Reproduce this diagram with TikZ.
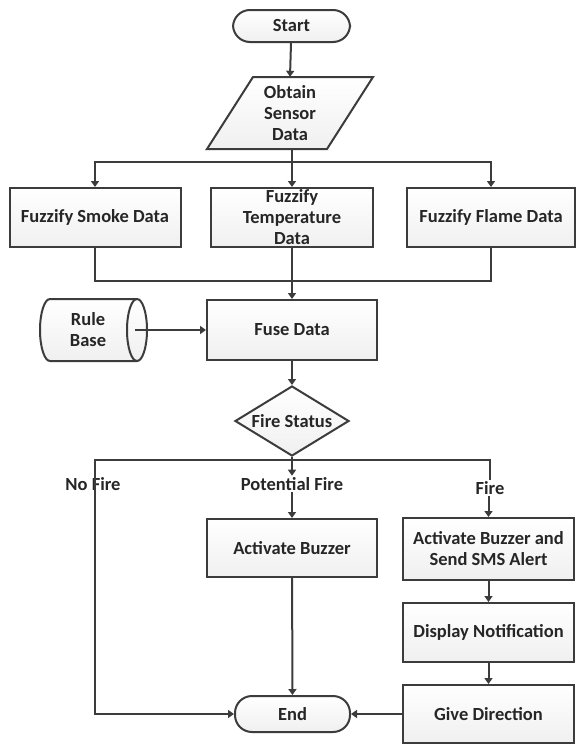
\documentclass[tikz,border=0pt]{standalone}
\usepackage{fontspec}
\setmainfont{Carlito}
\usetikzlibrary{arrows.meta,shapes.geometric}
\definecolor{ink}{HTML}{3C3C3C}
\definecolor{txt}{HTML}{262626}
\tikzset{
  base/.style={draw=ink, line width=2pt, text=txt, font=\fontsize{18.5}{21}\selectfont\bfseries, align=center, inner sep=0pt},
  shade/.style={top color=white, bottom color=black!6},
  proc/.style={base, shade, rectangle, minimum height=59pt},
  term/.style={base, shade, rectangle, rounded corners=17pt},
  decide/.style={base, shade, diamond, minimum width=114pt, minimum height=70pt},
  lab/.style={text=txt, font=\fontsize{18.5}{21}\selectfont\bfseries, inner sep=1.5pt},
  conn/.style={draw=ink, line width=2pt},
  arr/.style={conn, -{Triangle[length=6pt,width=8pt]}}
}
\begin{document}
\begin{tikzpicture}[x=1pt,y=-1pt]
\useasboundingbox[fill=white] (0,0) rectangle (576,744);
% Start
\node[term, minimum width=117pt, minimum height=32pt] (start) at (291.5,26) {Start};
% Obtain sensor data (parallelogram)
\draw[conn, shade] (253,77) -- (373,77) -- (327,149) -- (207,149) -- cycle;
\node[lab, minimum width=120pt, minimum height=72pt, align=center] (obtain) at (290,113) {Obtain\\Sensor\\Data};
% Fuzzify
\node[proc, minimum width=171pt] (smoke) at (95,217.5) {Fuzzify Smoke Data};
\node[proc, minimum width=162pt] (temp) at (292,217.5) {Fuzzify\\Temperature\\Data};
\node[proc, minimum width=168pt] (flame) at (491,217.5) {Fuzzify Flame Data};
% Fuse
\node[proc, minimum width=170pt, minimum height=60pt] (fuse) at (292,330) {Fuse Data};
% Rule base cylinder
\draw[conn, shade] (137,299) -- (50,299) arc[start angle=270, end angle=90, x radius=10, y radius=31]
  -- (137,361) arc[start angle=90, end angle=-90, x radius=10, y radius=31] -- cycle;
\draw[conn] (137,299) arc[start angle=270, end angle=90, x radius=10, y radius=31];
\node[lab, minimum width=80pt, minimum height=60pt, align=center] (rule) at (88,330) {Rule\\Base};
\coordinate (rulec) at (135,330);
% Decision
\node[decide] (status) at (292,421) {\makebox[0pt]{Fire Status}};
% Outcomes
\node[proc, minimum width=170pt, minimum height=58pt] (buzz) at (292,548) {Activate Buzzer};
\node[proc, minimum width=171pt, minimum height=62pt] (sms) at (488.5,549) {Activate Buzzer and\\Send SMS Alert};
\node[proc, minimum width=171pt, minimum height=59pt] (disp) at (488.5,632.5) {Display Notification};
\node[proc, minimum width=171pt, minimum height=58pt] (give) at (488.5,714) {Give Direction};
\node[term, minimum width=115pt, minimum height=36pt] (end) at (292.5,714) {End};
% Connectors
\draw[arr] (start) -- (obtain.north);
\coordinate (split) at (292,162);
\draw[conn] (obtain.south -| split) -- (split);
\draw[arr] (split) -- (temp);
\draw[arr] (split) -| (smoke);
\draw[arr] (split) -| (flame);
\coordinate (merge) at (292,281);
\draw[conn] (smoke) |- (merge);
\draw[conn] (flame) |- (merge);
\draw[arr] (temp) -- (fuse);
\draw[arr] (rulec) -- (fuse);
\draw[arr] (fuse) -- (status);
\coordinate (br) at (292,460);
\coordinate (nfc) at (95,714);
\draw[conn] (status) -- (br);
\node[lab] (nofire) at (93,484) {No Fire};
\node[lab, fill=white] (pf) at (292,484) {Potential Fire};
\node[lab, fill=white] (fire) at (490,488) {Fire};
\draw[arr] (br) -| (nfc) -- (end);
\draw[arr] (br) -- (pf);
\draw[arr] (pf) -- (buzz);
\draw[conn] (br) -| (fire);
\draw[arr] (fire.south -| sms) -- (sms);
\draw[arr] (buzz) -- (end);
\draw[arr] (sms) -- (disp);
\draw[arr] (disp) -- (give);
\draw[arr] (give) -- (end);
\end{tikzpicture}
\end{document}
